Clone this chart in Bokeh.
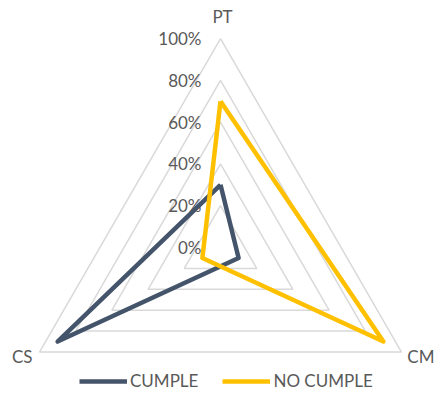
import numpy as np
from bokeh.plotting import figure
from bokeh.models import Range1d, Legend, LegendItem
from bokeh.core.properties import value
from bokeh.embed import file_html
from bokeh.resources import INLINE

# Radar axes (clockwise from the top) and the two series
categories = ["PT", "CM", "CS"]
cumple = [0.30, 0.10, 0.90]
no_cumple = [0.70, 0.90, 0.10]
levels = [0.0, 0.2, 0.4, 0.6, 0.8, 1.0]
level_labels = ["0%", "20%", "40%", "60%", "80%", "100%"]

W, H = 437, 401
CX, CY, R = 220, 247, 209  # centre and outer radius in pixels

angles = np.pi / 2 - 2 * np.pi * np.arange(len(categories)) / len(categories)


def polar(vals):
    vals = np.asarray(vals, dtype=float)
    return list(vals * np.cos(angles)), list(vals * np.sin(angles))


p = figure(width=W, height=H, output_backend="svg", toolbar_location=None,
           x_range=Range1d(-CX / R, (W - CX) / R),
           y_range=Range1d(-(H - CY) / R, CY / R),
           min_border=0, outline_line_color=None)
p.axis.visible = False
p.grid.visible = False
p.background_fill_color = "white"
p.border_fill_color = "white"

TXT = "#595959"
FONT = "Lato"
FS = "17px"

# concentric triangular gridlines
for lv in levels[1:]:
    xs, ys = polar([lv] * len(categories))
    p.line(xs + xs[:1], ys + ys[:1], line_color="#D9D9D9", line_width=1.5)

# percentage labels along the top axis
p.text(x=[-19 / R] * len(levels), y=levels, text=level_labels,
       text_align="right", text_baseline="middle", text_color=TXT,
       text_font=value(FONT), text_font_size=FS)

# category labels just outside the outer ring
lx, ly = polar([1.0] * len(categories))
p.text(x=[lx[0] + 2 / R], y=[ly[0] + 12 / R], text=[categories[0]],
       text_align="center", text_baseline="bottom", text_color=TXT,
       text_font=value(FONT), text_font_size=FS)
p.text(x=[(W - 3 - CX) / R], y=[ly[1] - 4 / R], text=[categories[1]],
       text_align="right", text_baseline="middle", text_color=TXT,
       text_font=value(FONT), text_font_size=FS)
p.text(x=[lx[2] - 7 / R], y=[ly[2] - 4 / R], text=[categories[2]],
       text_align="right", text_baseline="middle", text_color=TXT,
       text_font=value(FONT), text_font_size=FS)

# series polygons
xs, ys = polar(cumple)
r1 = p.line(xs + xs[:1], ys + ys[:1], line_color="#44546A", line_width=4.5,
            line_join="round")
xs, ys = polar(no_cumple)
r2 = p.line(xs + xs[:1], ys + ys[:1], line_color="#FFC000", line_width=4.5,
            line_join="round")

legend = Legend(items=[LegendItem(label="CUMPLE", renderers=[r1]),
                       LegendItem(label="NO CUMPLE", renderers=[r2])],
                orientation="horizontal", location=(79, 10),
                glyph_width=48, glyph_height=18, label_standoff=3,
                spacing=24, padding=0, margin=0,
                border_line_color=None, background_fill_alpha=0,
                label_text_font=FONT, label_text_font_size=FS,
                label_text_color=TXT)
p.add_layout(legend, "center")

open("out.html", "w").write(file_html(p, INLINE))
